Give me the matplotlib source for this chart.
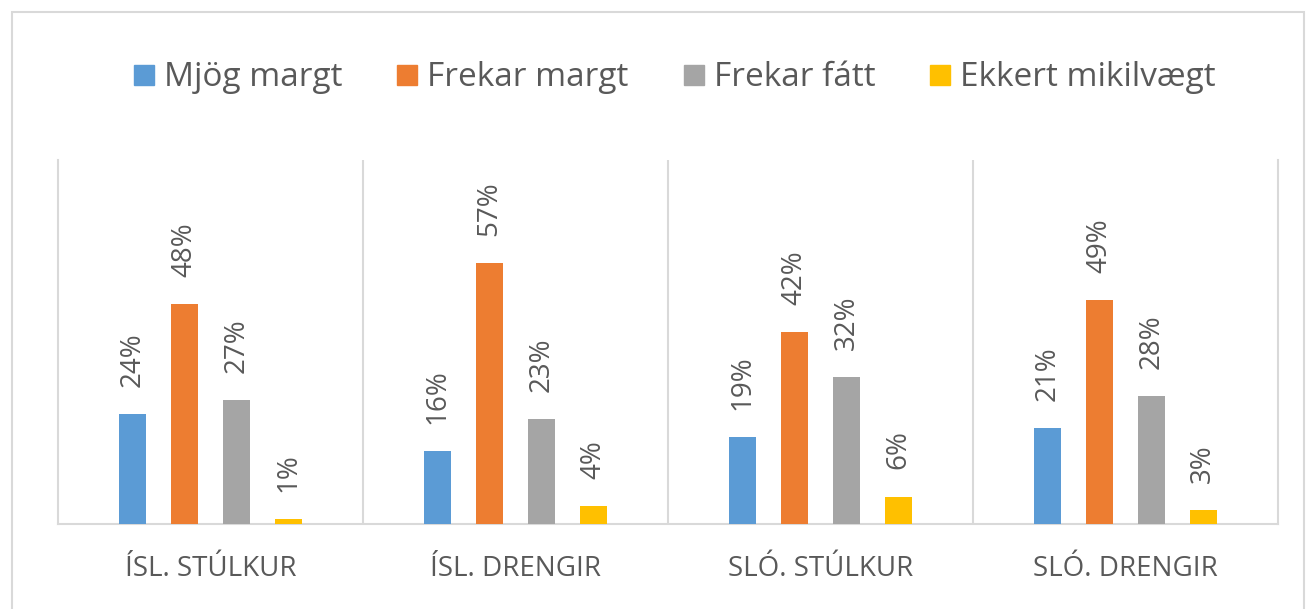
import matplotlib
matplotlib.use("Agg")
import matplotlib.pyplot as plt
from matplotlib.lines import Line2D
from matplotlib.patches import Rectangle
import numpy as np

plt.rcParams['font.family'] = ['Open Sans', 'DejaVu Sans']

categories = ["ÍSL. STÚLKUR", "ÍSL. DRENGIR", "SLÓ. STÚLKUR", "SLÓ. DRENGIR"]
series_names = ["Mjög margt", "Frekar margt", "Frekar fátt", "Ekkert mikilvægt"]
values = {
    "Mjög margt": [24, 16, 19, 21],
    "Frekar margt": [48, 57, 42, 49],
    "Frekar fátt": [27, 23, 32, 28],
    "Ekkert mikilvægt": [1, 4, 6, 3],
}
colors = ["#5B9BD5", "#ED7D31", "#A5A5A5", "#FFC000"]
text_color = "#595959"
line_color = "#D9D9D9"

W, H = 1314, 609
fig = plt.figure(figsize=(W / 100, H / 100), dpi=100)
fig.patch.set_facecolor("white")

# outer border
fig.add_artist(Rectangle((12 / W, -0.02), (1304 - 12) / W, 1 - 12 / H + 0.02,
                         transform=fig.transFigure, fill=False,
                         edgecolor="#D9D9D9", linewidth=1.5))

ax = fig.add_axes([58 / W, 1 - 524 / H, (1278 - 58) / W, (524 - 160) / H])
x = np.arange(len(categories))
spacing = 0.17
width = 0.089
for i, (name, col) in enumerate(zip(series_names, colors)):
    vals = values[name]
    pos = x + (i - 1.5) * spacing
    ax.bar(pos, vals, width=width, color=col, zorder=3)
    for px, v in zip(pos, vals):
        ax.annotate(f"{v}%", (px, v), xytext=(0, 19.5), textcoords="offset points",
                    rotation=90, ha="center", va="bottom", fontsize=20,
                    color=text_color)

ax.set_xlim(-0.5, len(categories) - 0.5)
ax.set_ylim(0, 79.5)
ax.set_yticks([])
ax.set_xticks(x)
ax.set_xticklabels(categories, fontsize=20, color=text_color)
ax.tick_params(axis="x", length=0, pad=22)
for s in ["left", "right", "bottom"]:
    ax.spines[s].set_color(line_color)
    ax.spines[s].set_linewidth(1.5)
ax.spines["top"].set_visible(False)
for b in np.arange(0.5, len(categories) - 0.5, 1.0):
    ax.axvline(b, color=line_color, linewidth=1.5, zorder=1)

handles = [Line2D([], [], linestyle="none", marker="s", markersize=14.5,
                  markerfacecolor=c, markeredgecolor=c) for c in colors]
fig.legend(handles, series_names, loc="center", bbox_to_anchor=(675 / W, 1 - 78 / H),
           ncol=4, frameon=False, fontsize=24, handlelength=0.6, handletextpad=0.3,
           columnspacing=1.65, labelcolor=text_color)

fig.savefig("out.png", dpi=100, facecolor="white")
